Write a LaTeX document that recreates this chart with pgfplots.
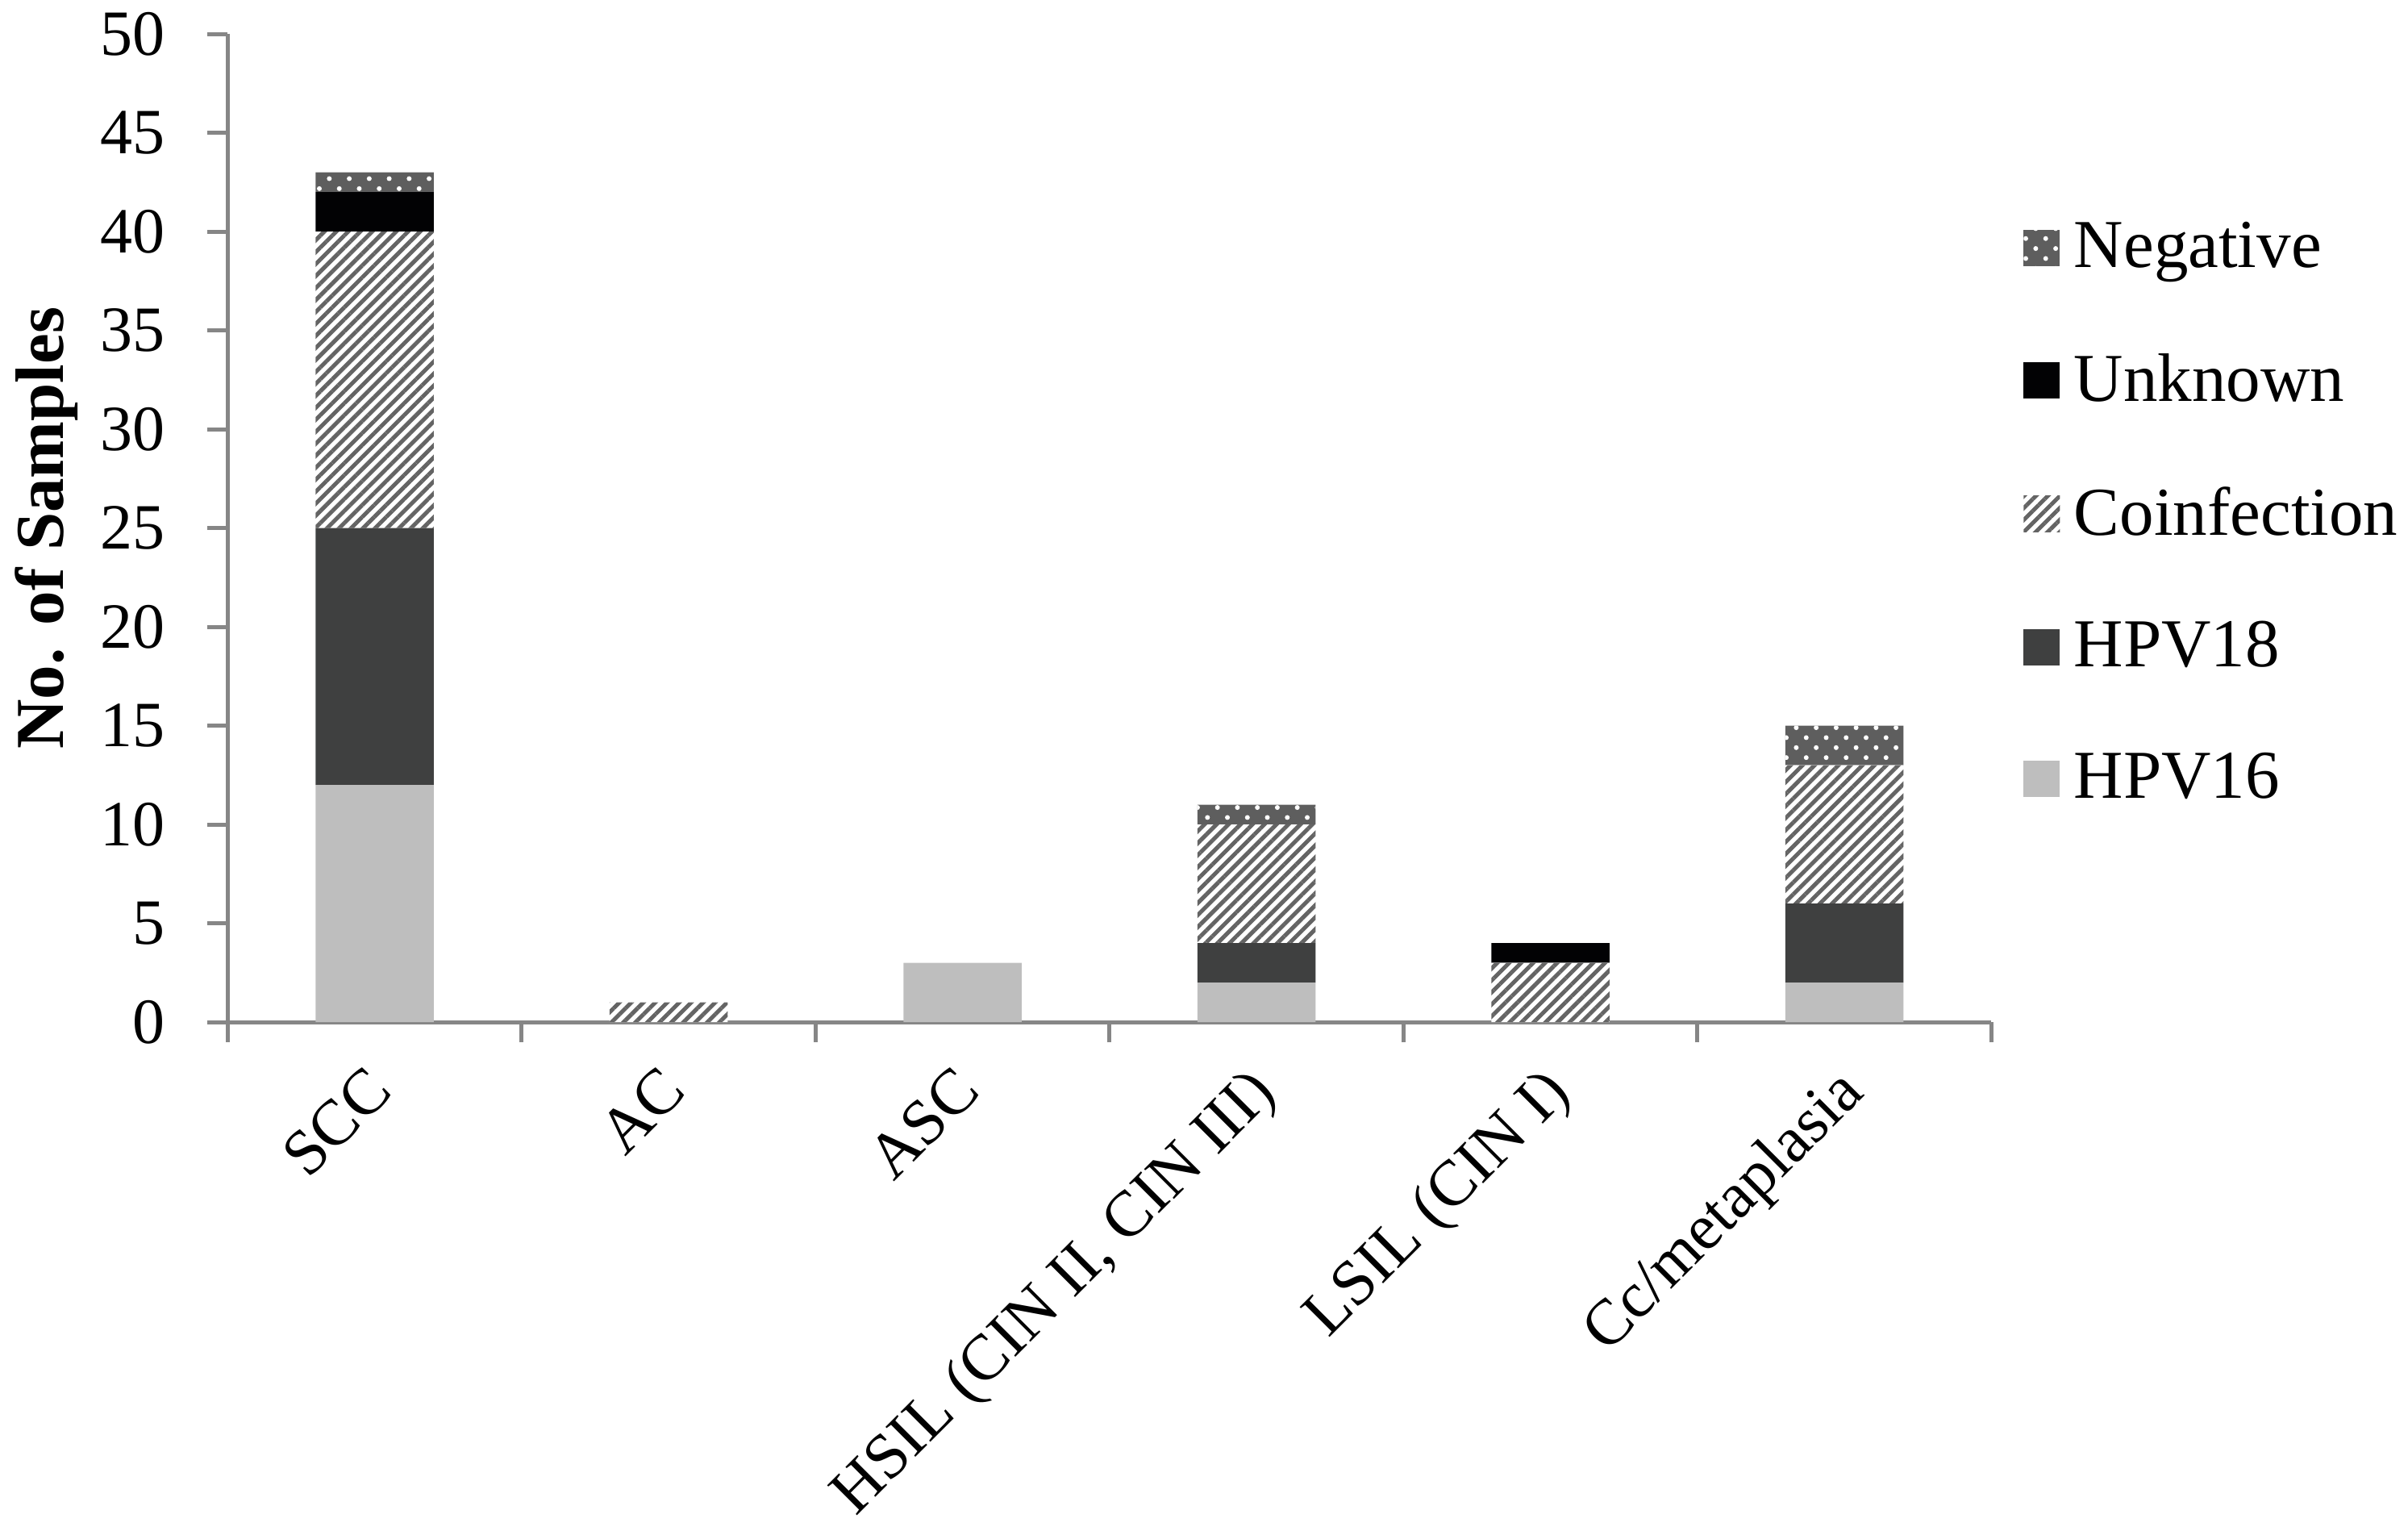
\documentclass[border=0pt]{standalone}
\usepackage{fontspec}
\setmainfont{Liberation Serif}
\usepackage{pgfplots}
\pgfplotsset{compat=1.18}
\usetikzlibrary{patterns.meta}

\definecolor{axisgray}{HTML}{868686}
\definecolor{hpvsixteen}{HTML}{BEBEBE}
\definecolor{hpveighteen}{HTML}{3F4040}
\definecolor{unknowncol}{HTML}{020204}
\definecolor{stripecol}{HTML}{646464}
\definecolor{negcol}{HTML}{5E5E5E}
\newcommand\f{\fontsize{16pt}{19pt}\selectfont}
\newcommand\fl{\fontsize{17pt}{20pt}\selectfont}

\begin{document}
\begin{tikzpicture}
\path[use as bounding box] (-56.5pt,-125pt) rectangle (540.7pt,253.4pt);
\begin{axis}[
  anchor=south west, at={(0pt,0pt)},
  scale only axis, width=437.4pt, height=245pt,
  ybar stacked, bar width=29.3pt,
  xmin=-0.5, xmax=5.5, ymin=0, ymax=50,
  xtick={0,...,5},
  xticklabels={SCC,AC,ASC,{HSIL (CIN II, CIN III)},{LSIL (CIN I)},Cc/metaplasia},
  minor xtick={-0.5,0.5,...,5.5},
  ytick={0,5,...,50},
  axis x line*=bottom, axis y line*=left,
  axis line style={-, draw=axisgray, line width=1pt},
  tick align=outside,
  major tick length=5pt, minor tick length=5pt,
  major x tick style={draw=none},
  minor x tick style={draw=axisgray, line width=1pt},
  major y tick style={draw=axisgray, line width=1pt},
  /pgf/number format/assume math mode=true,
  ticklabel style={font=\f},
  yticklabel style={xshift=-7pt},
  xticklabel style={xshift=-2.6pt, rotate=45, anchor=north east, inner sep=0pt},
  xticklabel shift=5pt,
  ylabel={No. of Samples},
  ylabel style={at={(axis description cs:-0.103,0.5)}, anchor=center, font=\fl\bfseries},
  legend style={at={(axis description cs:1,1)}, anchor=north west, draw=none, fill=none,
    inner sep=0pt, xshift=7.8pt, yshift=-45pt, row sep=16.8pt, font=\fl,
    nodes={inner sep=1.5pt},
    /tikz/every odd column/.append style={column sep=2pt}},
  legend cell align=left,
  reverse legend,
  legend image code/.code={\draw[#1, draw=none] (0pt,-4.5pt) rectangle (9pt,4.5pt);},
  clip=false,
]
\addplot[fill=hpvsixteen, draw=none] coordinates {(0,12)(1,0)(2,3)(3,2)(4,0)(5,2)};
\addplot[fill=hpveighteen, draw=none] coordinates {(0,13)(1,0)(2,0)(3,2)(4,0)(5,4)};
\addplot[fill=white, draw=none, postaction={pattern={Lines[angle=45,distance=2.1pt,line width=1pt]}, pattern color=stripecol}]
  coordinates {(0,15)(1,1)(2,0)(3,6)(4,3)(5,7)};
\addplot[fill=unknowncol, draw=none] coordinates {(0,2)(1,0)(2,0)(3,0)(4,1)(5,0)};
\addplot[fill=negcol, draw=none, postaction={pattern={Dots[angle=45,distance=3.5pt,radius=0.6pt]}, pattern color=white}]
  coordinates {(0,1)(1,0)(2,0)(3,1)(4,0)(5,2)};
\legend{HPV16,HPV18,Coinfection,Unknown,Negative}
\end{axis}
\end{tikzpicture}
\end{document}
